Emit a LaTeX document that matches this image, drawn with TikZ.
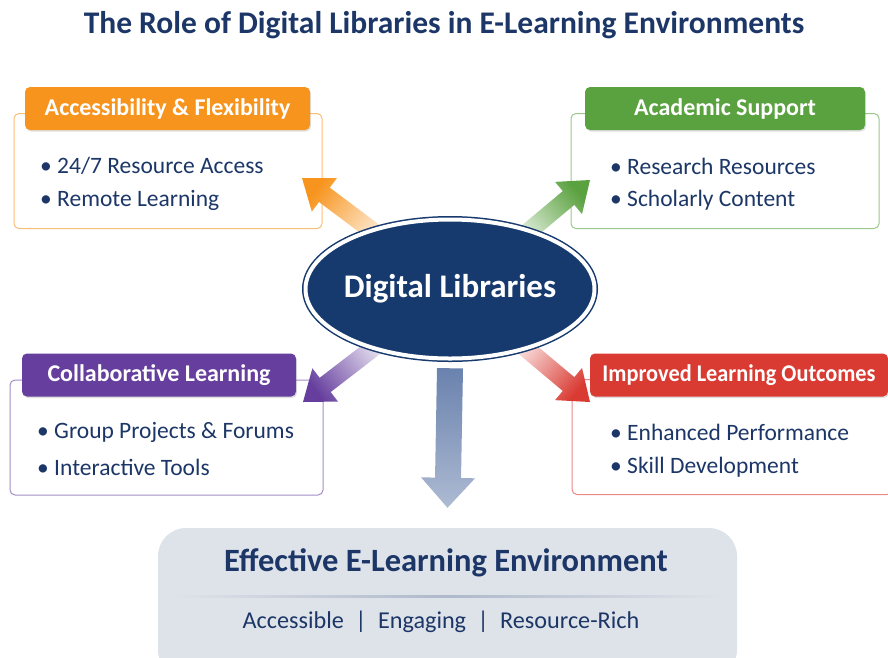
\documentclass[tikz,border=0pt]{standalone}
\usepackage{fontspec}
\setmainfont{Carlito}
\usepackage{tikz}
\usetikzlibrary{calc}
\usetikzlibrary{shapes.geometric}
\usetikzlibrary{shadows}
\usetikzlibrary{backgrounds}
\definecolor{navy}{HTML}{1C3767}
\definecolor{dlnavy}{HTML}{163A6E}
\definecolor{accorange}{HTML}{F7941D}
\definecolor{acagreen}{HTML}{5AA13F}
\definecolor{colpurple}{HTML}{663F9E}
\definecolor{impred}{HTML}{D93A32}
\definecolor{envfill}{HTML}{DEE2E9}
\definecolor{envline}{HTML}{AEB9CB}
\definecolor{downblue}{HTML}{6A82AE}
\tikzset{
    headbox/.style={fill=#1, rounded corners=5pt, text=white, inner sep=0pt, minimum height=43pt,
        font=\bfseries\fontsize{24}{28}\selectfont,
        drop shadow={opacity=0.25, shadow xshift=1pt, shadow yshift=-1.5pt}},
    framebox/.style={draw=#1!60, line width=1pt, rounded corners=5pt, inner sep=0pt, fill=white},
    item/.style={anchor=west, text=navy, inner sep=0pt, font=\fontsize{23.5}{28}\selectfont}
}
% fat arrow: tail, tip, half shaft, half head, head length, style
\newcommand\fatarrow[6]{
    \coordinate (fa-h) at ($(#2)!#5!(#1)$);
    \path[#6] ($(#1)!#3!90:(#2)$) -- ($(fa-h)!#3!90:(#2)$) -- ($(fa-h)!#4!90:(#2)$) -- (#2)
        -- ($(fa-h)!#4!-90:(#2)$) -- ($(fa-h)!#3!-90:(#2)$) -- ($(#1)!#3!-90:(#2)$) -- cycle;
}
\begin{document}
\begin{tikzpicture}[x=1pt,y=-1pt]
\useasboundingbox (0,0) rectangle (888,657);
\clip (0,0) rectangle (888,657);
\node (title) at (444,25) [text=navy, font=\bfseries\fontsize{31.5}{36}\selectfont] {The Role of Digital Libraries in E-Learning Environments};
% centre
\node (dl) at (450,289) [ellipse, fill=dlnavy, draw=dlnavy, line width=1.5pt, double=white, double distance=4pt,
    inner sep=0pt, minimum width=289, minimum height=139] {};
\node (dlText) at (dl.center) [text=white, font=\bfseries\fontsize{33}{38}\selectfont] {Digital Libraries};
% four boxes
\begin{pgfonlayer}{background}
\foreach \nm/\col/\fx/\fy/\fw in {acc/accorange/168/171/308, aca/acagreen/725/171/308,
    col/colpurple/166.5/437.5/313, imp/impred/732/437/320}{
    \node (\nm Box) at (\fx,\fy) [framebox=\col, minimum width=\fw, minimum height=115] {};
}
\coordinate (accTip) at (302,178);
\coordinate (acaTip) at (590,180);
\coordinate (colTip) at (303,402);
\coordinate (impTip) at (590,402);
\fatarrow{$(dl.center)+(-56,-42)$}{accTip}{9pt}{21pt}{28pt}{top color=accorange, bottom color=accorange!5, shading angle=53}
\fatarrow{$(dl.center)+(60,-42)$}{acaTip}{9pt}{21pt}{28pt}{top color=acagreen, bottom color=acagreen!5, shading angle=-50}
\fatarrow{$(dl.center)+(-60,46)$}{colTip}{9pt}{21pt}{28pt}{top color=colpurple, bottom color=colpurple!5, shading angle=128}
\fatarrow{$(dl.center)+(60,46)$}{impTip}{9pt}{21pt}{28pt}{top color=impred, bottom color=impred!5, shading angle=-130}
\end{pgfonlayer}
\foreach \nm/\col/\hx/\hw/\hy/\bx/\head/\one/\two in {
    acc/accorange/167.5/285/108.5/40/{Accessibility \& Flexibility}/{24/7 Resource Access}/{Remote Learning},
    aca/acagreen/725/280/108.5/610/{Academic Support}/{Research Resources}/{Scholarly Content},
    col/colpurple/159/274/375/37/{Collaborative Learning}/{Group Projects \& Forums}/{Interactive Tools},
    imp/impred/739/298/375/610/{\scalebox{0.93}[1]{Improved Learning Outcomes}}/{Enhanced Performance}/{Skill Development}}{
    \node (\nm Head) at (\hx,\hy) [headbox=\col, minimum width=\hw] {\head};
    \node (\nm One) at (\bx,\hy+57.5) [item] {• \one};
    \node (\nm Two) at (\bx,\hy+92) [item] {• \two};
}
% result
\node (env) at (447.5,603) [fill=envfill, rounded corners=28pt, minimum width=579, minimum height=150] {};
\fatarrow{$(dl.south)+(0,9)$}{$(env.north)+(0,-20)$}{13pt}{27pt}{30pt}{top color=downblue, bottom color=downblue!55}
\node (envTitle) at (446,563) [text=navy, font=\bfseries\fontsize{32.5}{38}\selectfont] {Effective E-Learning Environment};
\shade[left color=envfill, right color=envfill, middle color=envline] (175,595.5) rectangle (720,597);
\node (envSub) at (441,622) [text=navy, font=\fontsize{24.2}{28}\selectfont] {Accessible\hspace{6pt} | \hspace{6pt}Engaging\hspace{6pt} | \hspace{6pt}Resource-Rich};
\end{tikzpicture}
\end{document}
